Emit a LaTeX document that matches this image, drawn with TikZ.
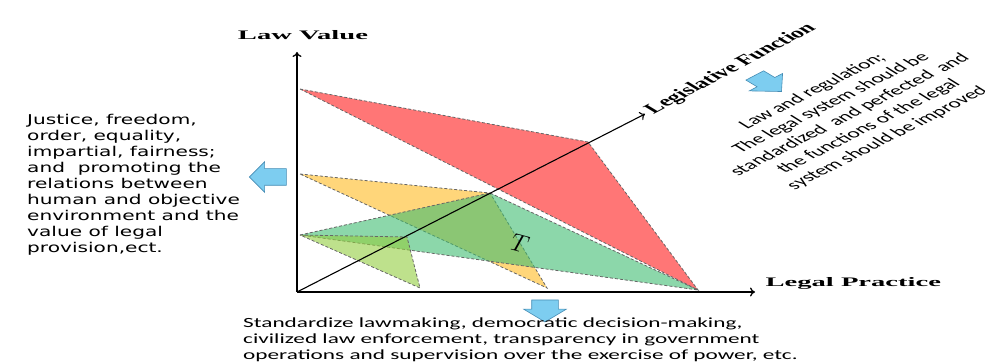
\documentclass[tikz,border=0pt]{standalone}
\usepackage{fontspec}
\usetikzlibrary{shapes.arrows,arrows.meta}
\newfontfamily\axisfont[FakeStretch=2.2]{Liberation Serif}
\newfontfamily\slantaxisfont{Liberation Serif}
\newfontfamily\leftfont[FakeStretch=1.49]{DejaVu Sans}
\newfontfamily\notefont[FakeStretch=1.66]{Carlito}
\newfontfamily\slantnotefont{Carlito}
\definecolor{redface}{RGB}{255,118,118}
\definecolor{yellowface}{RGB}{255,214,122}
\definecolor{tealface}{RGB}{63,188,113}
\definecolor{greenface}{RGB}{147,205,63}
\definecolor{arrowblue}{RGB}{125,205,240}
\definecolor{arrowedge}{RGB}{70,140,180}
\tikzset{
  face/.style={draw=black!60, line width=0.8pt, dash pattern=on 3pt off 2pt},
  axis/.style={line width=1.3pt, -{To[length=5pt,width=9pt]}},
  axislabel/.style={font=\axisfont\bfseries\fontsize{13}{15}\selectfont},
  bluearrow/.style={single arrow, fill=arrowblue, draw=arrowedge, line width=0.6pt,
    inner sep=0pt},
  stretched/.style={xscale=1.78}
}
\begin{document}
\begin{tikzpicture}[x=1pt,y=1pt]
  \useasboundingbox (0,0) rectangle (985,363);
  % axes points
  \coordinate (O) at (297,71);
  \coordinate (ytop) at (297,311);
  \coordinate (xend) at (755,71);
  \coordinate (dtip) at (645,249);
  % triangle corners
  \coordinate (r1) at (300,274);
  \coordinate (r2) at (588,221);
  \coordinate (r3) at (698,73);
  \coordinate (y1) at (300,189);
  \coordinate (y2) at (490,170);
  \coordinate (y3) at (547,75);
  \coordinate (t1) at (300,128);
  \coordinate (g2) at (407,126);
  \coordinate (g3) at (420,75);

  \draw[face, fill=redface] (r1) -- (r2) -- (r3) -- cycle;
  \draw[face, fill=yellowface] (y1) -- (y2) -- (y3) -- cycle;
  \draw[face, fill=tealface, fill opacity=0.6] (t1) -- (y2) -- (r3) -- cycle;
  \draw[face, fill=greenface, fill opacity=0.6] (t1) -- (g2) -- (g3) -- cycle;

  \draw[axis] (O) -- (ytop);
  \draw[axis] (O) -- (xend);
  \draw[axis, line width=1.1pt] (O) -- (dtip);

  \node[axislabel] (lawvalue) at (303,328) {Law Value};
  \node[axislabel, anchor=west] (practice) at (762,80) {Legal Practice};
  \node[font=\fontsize{30}{32}\selectfont, rotate=-15] (tlabel) at (520,119) {$T$};

  \node[bluearrow, rotate=180, minimum height=37pt, minimum width=30pt,
    single arrow head extend=7pt, inner ysep=8pt] (leftarrow) at (272,186) {};
  \node[bluearrow, rotate=-90, minimum height=22pt, minimum width=42pt,
    single arrow tip angle=118, single arrow head extend=8pt, inner ysep=13pt]
    (downarrow) at (545,56) {};

  % the slanted labels are drawn wide, as the whole figure is
  \begin{scope}[shift={(731,294)}, stretched]
    \node[font=\slantaxisfont\bfseries\fontsize{14.4}{16}\selectfont, rotate=43,
      transform shape] (legis) at (0,0) {Legislative Function};
  \end{scope}
  \begin{scope}[shift={(764,282)}, stretched]
    \node[bluearrow, rotate=-47, transform shape, minimum height=22pt, minimum width=25pt,
      single arrow head extend=6pt, inner ysep=6.5pt] (slantarrow) at (0,0) {};
  \end{scope}
  \begin{scope}[shift={(850,248)}, stretched]
    \node[font=\slantnotefont\fontsize{13.2}{15.7}\selectfont, align=center, rotate=42,
      transform shape] (legisnote) at (0,0)
      {Law and regulation;\\The legal system should be\\standardized\ \ and perfected\ \ and\\
       the functions of the legal\\system should be improved};
  \end{scope}

  \node[font=\leftfont\fontsize{13.5}{16}\selectfont, align=left, anchor=north west,
    inner sep=0pt] (values) at (27,249)
    {Justice, freedom,\\order, equality,\\impartial, fairness;\\and\ \ promoting the\\
     relations between\\human and objective\\environment and the\\value of legal\\
     provision,ect.};
  \node[font=\notefont\fontsize{14}{16}\selectfont, align=left, anchor=north west,
    inner sep=0pt] (practicenote) at (243,45)
    {Standardize lawmaking, democratic decision-making,\\
     civilized law enforcement, transparency in government\\
     operations and supervision over the exercise of power, etc.};
\end{tikzpicture}
\end{document}
